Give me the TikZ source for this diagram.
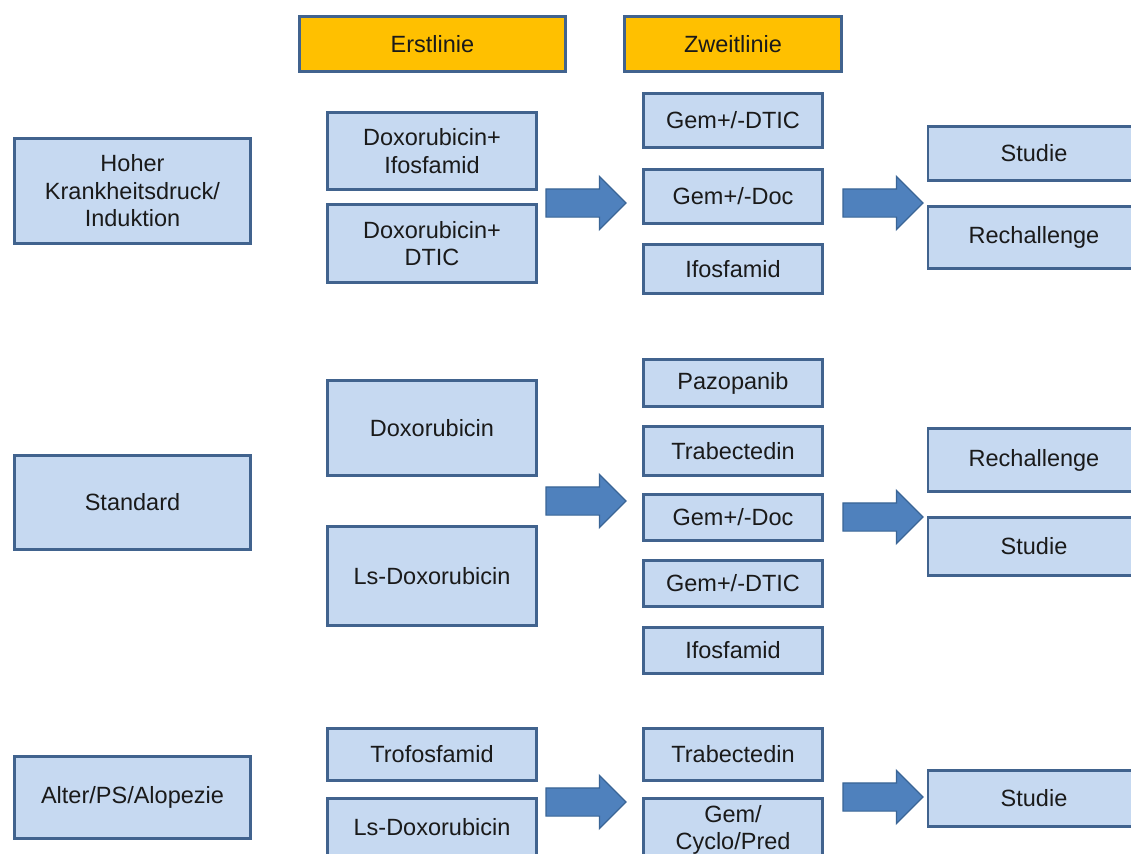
\documentclass[tikz,border=0pt]{standalone}
\usepackage{fontspec}
\setmainfont{Liberation Sans}
\usetikzlibrary{shapes.arrows}
\definecolor{boxfill}{HTML}{C6D9F1}
\definecolor{boxline}{HTML}{41638E}
\definecolor{hdrfill}{HTML}{FFC000}
\definecolor{arrfill}{HTML}{4F81BD}
\definecolor{arrline}{HTML}{3A6596}
\definecolor{ink}{HTML}{1A1A1A}
\newcommand{\bxfont}{\fontsize{23.5}{27.5}\selectfont}
\tikzset{
  bx/.style={draw=boxline, line width=2.8pt, align=center, font=\bxfont, text=ink, inner sep=2pt},
  blu/.style={bx, fill=boxfill},
  hdr/.style={bx, fill=hdrfill, minimum height=55pt},
  colK/.style={blu, minimum width=236pt},
  colE/.style={blu, minimum width=209pt},
  colZ/.style={blu, minimum width=179pt},
  colS/.style={blu, minimum width=212pt},
  bigarr/.style={single arrow, draw=arrline, line width=1.2pt, fill=arrfill, minimum height=80pt, inner sep=13.5pt, single arrow head extend=12.5pt, single arrow tip angle=90},
}

\begin{document}
\begin{tikzpicture}[x=1pt, y=-1pt]
  \useasboundingbox (0,0) rectangle (1131,853);
  \clip (0,0) rectangle (1131,853);
  \fill[white] (0,0) rectangle (1131,853);
  % Kopfzeile
  \node[hdr, minimum width=266pt] (erst) at (432.5,44) {Erstlinie};
  \node[hdr, minimum width=217pt] (zweit) at (733,44) {Zweitlinie};
  % Gruppen
  \node[colK, minimum height=105pt] (hoch) at (132.5,191) {Hoher\\Krankheitsdruck/\\Induktion};
  \node[colK, minimum height=94pt] (std) at (132.5,502.5) {Standard};
  \node[colK, minimum height=82pt] (alt) at (132.5,797.5) {Alter/PS/Alopezie};
  % Erstlinie
  \node[colE, minimum height=77pt] (e1) at (432,151) {Doxorubicin+\\Ifosfamid};
  \node[colE, minimum height=78pt] (e2) at (432,243.5) {Doxorubicin+\\DTIC};
  \node[colE, minimum height=95pt] (e3) at (432,428) {Doxorubicin};
  \node[colE, minimum height=99pt] (e4) at (432,576) {Ls-Doxorubicin};
  \node[colE, minimum height=52pt] (e5) at (432,754.5) {Trofosfamid};
  \node[colE, minimum height=57pt] (e6) at (432,827) {Ls-Doxorubicin};
  % Zweitlinie
  \node[colZ, minimum height=54pt] (z1) at (733,120.5) {Gem+/-DTIC};
  \node[colZ, minimum height=54pt] (z2) at (733,196.5) {Gem+/-Doc};
  \node[colZ, minimum height=49pt] (z3) at (733,269) {Ifosfamid};
  \node[colZ, minimum height=47pt] (z4) at (733,383) {Pazopanib};
  \node[colZ, minimum height=49pt] (z5) at (733,451) {Trabectedin};
  \node[colZ, minimum height=46pt] (z6) at (733,517.5) {Gem+/-Doc};
  \node[colZ, minimum height=46pt] (z7) at (733,583.5) {Gem+/-DTIC};
  \node[colZ, minimum height=46pt] (z8) at (733,650.5) {Ifosfamid};
  \node[colZ, minimum height=52pt] (z9) at (733,754.5) {Trabectedin};
  \node[colZ, minimum height=63pt] (z10) at (733,830) {Gem/\\Cyclo/Pred};
  % danach
  \node[colS, minimum height=54pt] (s1) at (1034,153.5) {Studie};
  \node[colS, minimum height=62pt] (s2) at (1034,237.5) {Rechallenge};
  \node[colS, minimum height=63pt] (s3) at (1034,460) {Rechallenge};
  \node[colS, minimum height=58pt] (s4) at (1034,546.5) {Studie};
  \node[colS, minimum height=56pt] (s5) at (1034,798.5) {Studie};
  % Blockpfeile
  \foreach \n/\x/\y in {a1/579/203, a2/876/203, a3/579/501, a4/876/517, a5/579/802, a6/876/797}
    \node[bigarr] (\n) at (\x,\y) {};
\end{tikzpicture}
\end{document}
